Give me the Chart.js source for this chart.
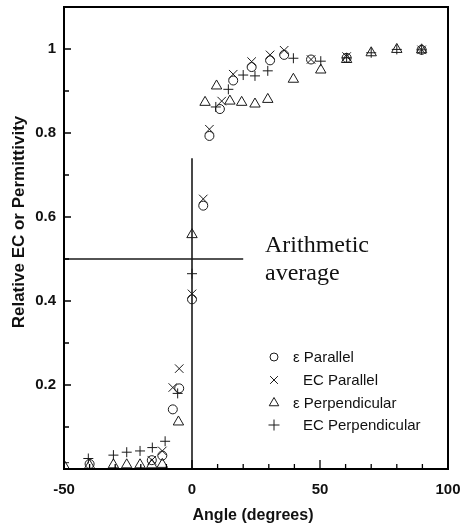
<!DOCTYPE html>
<html><head><meta charset="utf-8">
<script src="https://cdn.jsdelivr.net/npm/chart.js@4/dist/chart.umd.min.js"></script>
<style>html,body{margin:0;padding:0;background:#fff}#wrap{width:462px;height:529px}</style>
</head><body><div id="wrap"><canvas id="c" width="462" height="529"></canvas></div>
<script>
// ---- data ----
const epsParAngle = [-40, -15.7, -11.6, -7.5, -5, 0, 4.4, 6.8, 10.9, 16.1, 23.3, 30.5, 36, 46.5, 60.4, 89.7];
const epsParValue = [0.012, 0.021, 0.032, 0.142, 0.192, 0.404, 0.627, 0.793, 0.857, 0.925, 0.957, 0.973, 0.986, 0.975, 0.979, 0.998];

const ecParAngle = [-15.7, -11.6, -7.5, -5, 0, 4.4, 6.8, 11.6, 16.1, 23.3, 30.5, 36, 46.5, 60.4, 89.7];
const ecParValue = [0.021, 0.043, 0.194, 0.239, 0.417, 0.643, 0.809, 0.876, 0.94, 0.97, 0.986, 0.997, 0.975, 0.982, 0.998];

const epsPerpAngle = [-50, -40, -30.7, -25.5, -20.3, -15.7, -11.6, -5.3, 0, 5.1, 9.6, 14.8, 19.4, 24.6, 29.6, 39.6, 50.3, 60.4, 70, 80, 89.7];
const epsPerpValue = [0.008, 0.008, 0.01, 0.01, 0.01, 0.01, 0.011, 0.112, 0.558, 0.873, 0.912, 0.876, 0.873, 0.869, 0.88, 0.928, 0.95, 0.975, 0.991, 0.999, 0.998];

const ecPerpAngle = [-50, -40.5, -30.7, -25.5, -20.3, -15.5, -10.5, -5.6, 0, 9.3, 14.2, 20, 24.6, 29.6, 39.6, 50.3, 60.4, 70, 80, 89.7];
const ecPerpValue = [0.015, 0.025, 0.033, 0.04, 0.043, 0.051, 0.066, 0.18, 0.465, 0.862, 0.904, 0.938, 0.936, 0.948, 0.978, 0.971, 0.979, 0.991, 0.999, 0.998];

const seriesNames = ['\u03b5 Parallel', 'EC Parallel', '\u03b5 Perpendicular', 'EC Perpendicular'];
const xTickLabels = [-50, 0, 50, 100];
const yTickLabels = [0.2, 0.4, 0.6, 0.8, 1];
const refVertical = [{x: 0, y: 0}, {x: 0, y: 0.74}];
const refHorizontal = [{x: -50, y: 0.5}, {x: 20, y: 0.5}];
const xTitle = 'Angle (degrees)';
const yTitle = 'Relative EC or Permittivity';
const annotationLines = ['Arithmetic', 'average'];

const pts = (xs, ys) => xs.map((x, i) => ({x: x, y: ys[i]}));
const INK = '#1a1a1a';
const styles = [
  {pointStyle: 'circle', radius: 4.5},
  {pointStyle: 'crossRot', radius: 6},
  {pointStyle: 'triangle', radius: 6},
  {pointStyle: 'cross', radius: 5}
];
const sData = [pts(epsParAngle, epsParValue), pts(ecParAngle, ecParValue), pts(epsPerpAngle, epsPerpValue), pts(ecPerpAngle, ecPerpValue)];

const datasets = sData.map((d, i) => ({
  type: 'scatter', label: seriesNames[i], data: d,
  pointStyle: styles[i].pointStyle, pointRadius: styles[i].radius, pointHoverRadius: styles[i].radius,
  borderColor: INK, backgroundColor: 'rgba(0,0,0,0)', pointBorderWidth: 1, borderWidth: 1
}));
datasets.push({type: 'line', label: 'v', data: refVertical, borderColor: INK, borderWidth: 1.6, pointRadius: 0, fill: false});
datasets.push({type: 'line', label: 'h', data: refHorizontal, borderColor: INK, borderWidth: 1.6, pointRadius: 0, fill: false});

function drawMarker(ctx, style, r, x, y) {
  ctx.save();
  ctx.strokeStyle = INK; ctx.lineWidth = 1;
  ctx.beginPath();
  if (style === 'circle') { ctx.arc(x, y, r, 0, Math.PI * 2); }
  else if (style === 'crossRot') { const d = r * Math.SQRT1_2; ctx.moveTo(x - d, y - d); ctx.lineTo(x + d, y + d); ctx.moveTo(x - d, y + d); ctx.lineTo(x + d, y - d); }
  else if (style === 'triangle') { const w = r * Math.sqrt(3); ctx.moveTo(x, y - r); ctx.lineTo(x + w/2, y + r/2); ctx.lineTo(x - w/2, y + r/2); ctx.closePath(); }
  else if (style === 'cross') { ctx.moveTo(x, y - r); ctx.lineTo(x, y + r); ctx.moveTo(x - r, y); ctx.lineTo(x + r, y); }
  ctx.stroke();
  ctx.restore();
}

const decor = {
  id: 'decor',
  afterDraw(chart) {
    const ctx = chart.ctx, a = chart.chartArea;
    const xs = chart.scales.x, ys = chart.scales.y;
    ctx.save();
    // frame
    ctx.strokeStyle = '#000'; ctx.lineWidth = 2;
    ctx.strokeRect(a.left, a.top, a.right - a.left, a.bottom - a.top);
    // inward ticks
    ctx.lineWidth = 1.3;
    ctx.beginPath();
    for (let v = -40; v < 100; v += 10) {
      const px = xs.getPixelForValue(v);
      const len = (v % 50 === 0) ? 9 : 5;
      ctx.moveTo(px, a.bottom); ctx.lineTo(px, a.bottom - len);
    }
    for (let k = 1; k <= 10; k++) {
      const py = ys.getPixelForValue(k / 10);
      const len = (k % 2 === 0) ? 7 : 5;
      ctx.moveTo(a.left, py); ctx.lineTo(a.left + len, py);
    }
    ctx.stroke();
    // axis titles
    ctx.fillStyle = '#111';
    ctx.font = 'bold 16px "Liberation Sans", Arial, sans-serif';
    ctx.textAlign = 'center'; ctx.textBaseline = 'middle';
    ctx.fillText(xTitle, 253, 516);
    ctx.save();
    ctx.translate(19, 222); ctx.rotate(-Math.PI / 2);
    ctx.font = 'bold 17px "Liberation Sans", Arial, sans-serif';
    ctx.fillText(yTitle, 0, 0);
    ctx.restore();
    // annotation
    ctx.textAlign = 'left'; ctx.textBaseline = 'alphabetic';
    ctx.font = '24px "Liberation Serif", "Times New Roman", serif';
    ctx.fillText(annotationLines[0], 265, 252);
    ctx.fillText(annotationLines[1], 265, 280);
    // legend
    ctx.font = '15px "Liberation Sans", Arial, sans-serif';
    ctx.textBaseline = 'middle';
    const ly = [357, 380, 403, 425];
    seriesNames.forEach((n, i) => {
      drawMarker(ctx, styles[i].pointStyle, styles[i].pointStyle === 'circle' ? 4 : 5.5, 274, ly[i]);
      ctx.fillText(n, n.startsWith('\u03b5') ? 293 : 303, ly[i] + 1);
    });
    ctx.restore();
  }
};

new Chart(document.getElementById('c'), {
  data: {datasets: datasets},
  options: {
    responsive: false, animation: false, devicePixelRatio: 1,
    layout: {padding: {top: 7, right: 14, left: 0, bottom: 0}},
    plugins: {legend: {display: false}, tooltip: {enabled: false}},
    scales: {
      x: {
        type: 'linear', min: -50, max: 100,
        grid: {display: false, drawTicks: false}, border: {display: false},
        afterFit(s) { s.height = 60; s.paddingLeft = 0; s.paddingRight = 0; },
        ticks: {
          stepSize: 10, autoSkip: false, maxRotation: 0, padding: 12, color: '#111',
          font: {family: '"Liberation Sans", Arial, sans-serif', size: 15, weight: 'bold'},
          callback: v => xTickLabels.includes(v) ? String(v) : ''
        }
      },
      y: {
        type: 'linear', min: 0, max: 1.1,
        grid: {display: false, drawTicks: false}, border: {display: false},
        afterFit(s) { s.width = 64; s.paddingTop = 0; s.paddingBottom = 0; },
        ticks: {
          stepSize: 0.1, autoSkip: false, padding: 8, color: '#111',
          font: {family: '"Liberation Sans", Arial, sans-serif', size: 15, weight: 'bold'},
          callback: v => { const r = Math.round(v * 10) / 10; return yTickLabels.includes(r) ? String(r) : ''; }
        }
      }
    }
  },
  plugins: [decor]
});
</script></body></html>
